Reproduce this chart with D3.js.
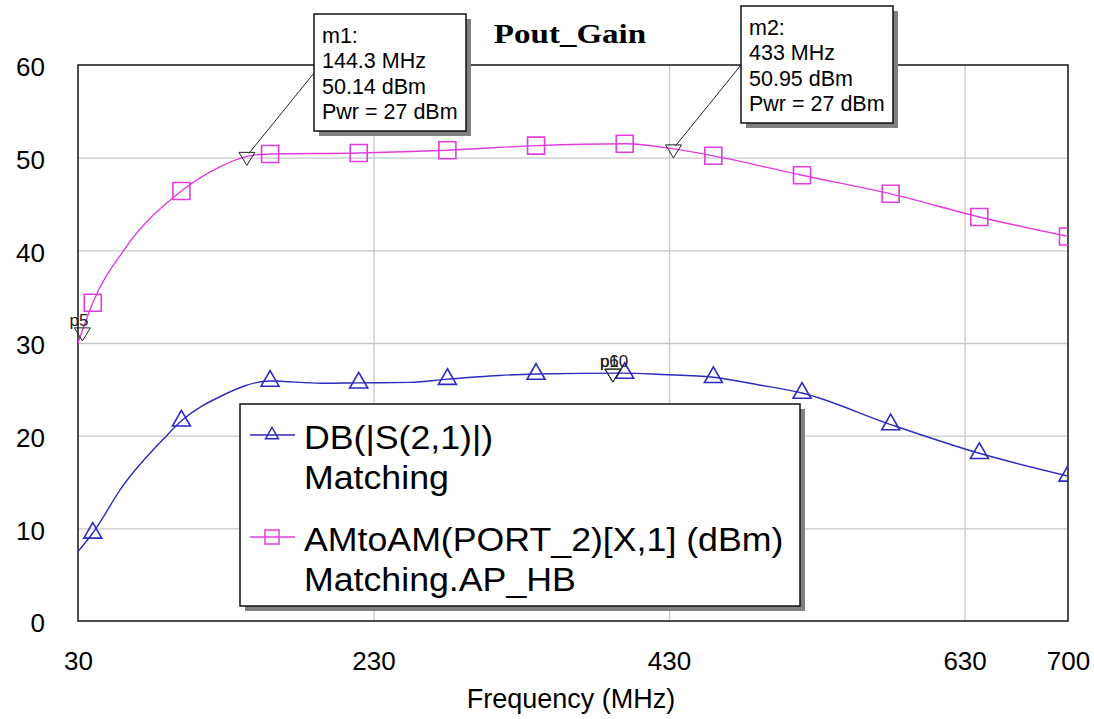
<!DOCTYPE html>
<html lang="en">
<head>
<meta charset="utf-8">
<title>Pout_Gain</title>
<script src="https://d3js.org/d3.v7.min.js" charset="utf-8"></script>
<style>
    body { margin: 0; background: #fff; }
    text { font-family: "Liberation Sans", Arial, sans-serif; fill: #000; }
    .axis path, .grid path { display: none; }
    .axis text { font-size: 26px; }
    .grid line { stroke: #c8c8c8; stroke-width: 1.3; }
</style>
</head>
<body>
<script>

    // DB(|S(2,1)|) curve
    var s21Freq = [30, 40, 60, 90, 100, 126, 160, 195, 220, 255, 280, 315, 340, 400, 425, 460, 490, 520, 580, 640, 700]
    var s21Val  = [7.5, 9.5, 14.5, 20.0, 21.6, 24.2, 25.9, 25.65, 25.7, 25.75, 26.1, 26.5, 26.65, 26.75, 26.6, 26.3, 25.5, 24.6, 21.2, 18.1, 15.65]

    // AMtoAM(PORT_2)[X,1] curve
    var poutFreq = [30, 40, 61, 100, 126, 144.3, 160, 220, 280, 340, 400, 433, 460, 520, 580, 640, 700]
    var poutVal  = [30.0, 34.35, 40.0, 46.4, 49.0, 50.14, 50.4, 50.5, 50.8, 51.3, 51.5, 50.95, 50.2, 48.1, 46.1, 43.6, 41.5]

    // frequencies where the series symbols are drawn
    var symbolFreqs = [40, 100, 160, 220, 280, 340, 400, 460, 520, 580, 640, 700]

    var xTicks = [30, 230, 430, 630, 700]
    var yTicks = [0, 10, 20, 30, 40, 50, 60]

    var legendItems = [
        {line1: "DB(|S(2,1)|)", line2: "Matching", color: "#2b2bbf", sym: "tri"},
        {line1: "AMtoAM(PORT_2)[X,1] (dBm)", line2: "Matching.AP_HB", color: "#e03ce0", sym: "sq"}
    ]

    var markers = [
        {name: "m1", freq: 144.3, val: 50.14, lines: ["m1:", "144.3 MHz", "50.14 dBm", "Pwr = 27 dBm"]},
        {name: "m2", freq: 433, val: 50.95, lines: ["m2:", "433 MHz", "50.95 dBm", "Pwr = 27 dBm"]}
    ]
    var pMarkers = [
        {label: "p5", freq: 33, val: 31.2},
        {label: "p6", freq: 392, val: 26.75},
        {label: "p10", freq: 392, val: 26.75}
    ]

    var w = 1094, h = 719
    var padLeft = 78, padRight = 1068, padTop = 65, padBottom = 621

    var svg = d3.select("body").append("svg").attr("width", w).attr("height", h)

    var xScale = d3.scaleLinear().domain([30, 700]).range([padLeft, padRight])
    var yScale = d3.scaleLinear().domain([0, 60]).range([padBottom, padTop])

    // grid
    svg.append("g").attr("class", "grid")
        .attr("transform", "translate(0," + padBottom + ")")
        .call(d3.axisBottom(xScale).tickValues([230, 430, 630]).tickSize(-(padBottom - padTop)).tickFormat(""))
    svg.append("g").attr("class", "grid")
        .attr("transform", "translate(" + padLeft + ",0)")
        .call(d3.axisLeft(yScale).tickValues([10, 20, 30, 40, 50]).tickSize(-(padRight - padLeft)).tickFormat(""))

    // axes labels
    var yAxis = svg.append("g").attr("class", "axis")
        .attr("transform", "translate(45,0)")
        .call(d3.axisLeft(yScale).tickValues(yTicks).tickSize(0).tickPadding(0))
    yAxis.selectAll("text").attr("dy", "0.42em")

    var xAxis = svg.append("g").attr("class", "axis")
        .attr("transform", "translate(0,650)")
        .call(d3.axisBottom(xScale).tickValues(xTicks).tickSize(0).tickPadding(0))
    xAxis.selectAll("text").attr("dy", "0.75em")

    svg.append("text").attr("x", (padLeft + padRight) / 2 - 2).attr("y", 708)
        .attr("text-anchor", "middle").style("font-size", "27px")
        .text("Frequency (MHz)")

    // plot frame
    svg.append("rect").attr("x", padLeft).attr("y", padTop)
        .attr("width", padRight - padLeft).attr("height", padBottom - padTop)
        .attr("fill", "none").attr("stroke", "#222").attr("stroke-width", 1.6)

    svg.append("clipPath").attr("id", "plotclip").append("rect")
        .attr("x", padLeft).attr("y", padTop).attr("width", padRight - padLeft).attr("height", padBottom - padTop)

    var plot = svg.append("g").attr("clip-path", "url(#plotclip)")

    var line = d3.line()
        .x(function (d) { return xScale(d[0]) })
        .y(function (d) { return yScale(d[1]) })
        .curve(d3.curveMonotoneX)

    var s21Data = s21Freq.map(function (f, i) { return [f, s21Val[i]] })
    var poutData = poutFreq.map(function (f, i) { return [f, poutVal[i]] })

    plot.append("path").datum(s21Data).attr("d", line)
        .attr("fill", "none").attr("stroke", legendItems[0].color).attr("stroke-width", 1.4)
    plot.append("path").datum(poutData).attr("d", line)
        .attr("fill", "none").attr("stroke", legendItems[1].color).attr("stroke-width", 1.4)

    var triSym = d3.symbol().type(d3.symbolTriangle).size(140)
    var sqSym = d3.symbol().type(d3.symbolSquare).size(289)

    plot.selectAll(".s21sym").data(s21Data.filter(function (d) { return symbolFreqs.indexOf(d[0]) >= 0 }))
        .enter().append("path")
        .attr("transform", function (d) { return "translate(" + xScale(d[0]) + "," + yScale(d[1]) + ")" })
        .attr("d", triSym).attr("fill", "none").attr("stroke", legendItems[0].color).attr("stroke-width", 1.6)

    plot.selectAll(".poutsym").data(poutData.filter(function (d) { return symbolFreqs.indexOf(d[0]) >= 0 }))
        .enter().append("path")
        .attr("transform", function (d) { return "translate(" + xScale(d[0]) + "," + yScale(d[1]) + ")" })
        .attr("d", sqSym).attr("fill", "none").attr("stroke", legendItems[1].color).attr("stroke-width", 1.6)

    // inverted triangle marker, top edge a little above the point
    function markerPath(x, y) {
        return "M" + (x - 8) + "," + (y - 4) + "L" + (x + 8) + "," + (y - 4) + "L" + x + "," + (y + 9) + "Z"
    }

    pMarkers.forEach(function (p) {
        var x = xScale(p.freq), y = yScale(p.val)
        svg.append("path").attr("d", markerPath(x, y)).attr("fill", "none").attr("stroke", "#222").attr("stroke-width", 1)
        svg.append("text").attr("x", x - 13).attr("y", y - 6).style("font-size", "17px").style("fill", "#222")
            .text(p.label)
    })

    // legend
    var lg = svg.append("g").attr("transform", "translate(240,404)")
    lg.append("rect").attr("x", 5).attr("y", 5).attr("width", 560).attr("height", 202).attr("fill", "#808080")
    lg.append("rect").attr("width", 560).attr("height", 202).attr("fill", "#fff").attr("stroke", "#111").attr("stroke-width", 1.5)

    legendItems.forEach(function (d, i) {
        var yy = i == 0 ? 31 : 133
        lg.append("line").attr("x1", 10).attr("x2", 55).attr("y1", yy).attr("y2", yy)
            .attr("stroke", d.color).attr("stroke-width", 1.4)
        var s = d.sym == "tri" ? d3.symbol().type(d3.symbolTriangle).size(75) : d3.symbol().type(d3.symbolSquare).size(200)
        lg.append("path").attr("d", s).attr("transform", "translate(32," + yy + ")")
            .attr("fill", "none").attr("stroke", d.color).attr("stroke-width", 1.4)
        lg.append("text").attr("transform", "translate(64," + (yy + 2) + ") scale(1.05,1)")
            .attr("dy", "0.36em").style("font-size", "34px").text(d.line1)
        lg.append("text").attr("transform", "translate(64," + (yy + 42) + ") scale(1.05,1)")
            .attr("dy", "0.36em").style("font-size", "34px").text(d.line2)
    })

    // marker boxes
    var boxes = [{x: 314, y: 14}, {x: 741, y: 6}]
    markers.forEach(function (m, i) {
        var b = boxes[i]
        var mx = xScale(m.freq), my = yScale(m.val)
        svg.append("line").attr("x1", b.x).attr("y1", b.y + 59).attr("x2", mx + 2).attr("y2", my - 3)
            .attr("stroke", "#222").attr("stroke-width", 1)
        svg.append("path").attr("d", markerPath(mx, my)).attr("fill", "none").attr("stroke", "#222").attr("stroke-width", 1)
        svg.append("rect").attr("x", b.x + 5).attr("y", b.y + 5).attr("width", 152).attr("height", 117).attr("fill", "#808080")
        svg.append("rect").attr("x", b.x).attr("y", b.y).attr("width", 152).attr("height", 117)
            .attr("fill", "#fff").attr("stroke", "#111").attr("stroke-width", 1.5)
        m.lines.forEach(function (t, j) {
            svg.append("text").attr("x", b.x + 8).attr("y", b.y + 21 + j * 25.5).attr("dy", "0.36em")
                .style("font-size", "21.5px").text(t)
        })
    })

    // title
    svg.append("text").attr("transform", "translate(570,43) scale(1.18,1)")
        .attr("text-anchor", "middle")
        .style("font-family", "'Liberation Serif', 'Times New Roman', serif")
        .style("font-weight", "bold").style("font-size", "28px")
        .text("Pout_Gain")

</script>
</body>
</html>
